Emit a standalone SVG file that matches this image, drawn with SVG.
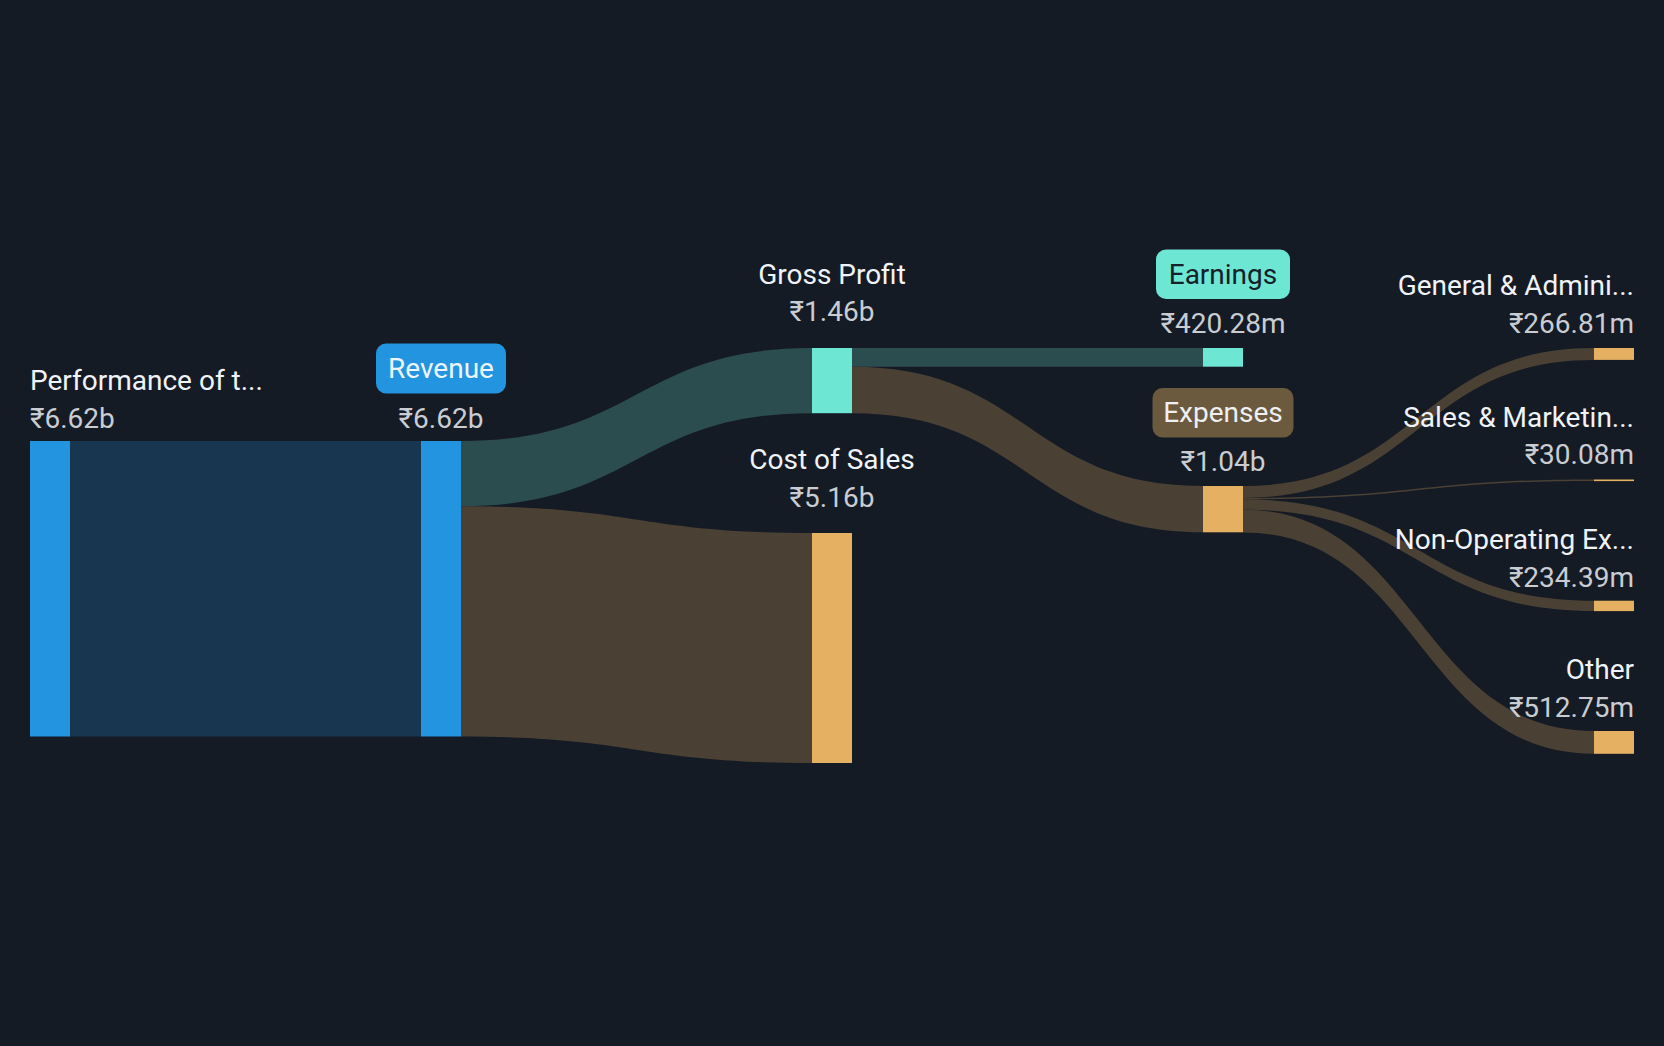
<svg xmlns="http://www.w3.org/2000/svg" width="1664" height="1046" viewBox="0 0 1664 1046">
<style>
text{font-family:Roboto,"DejaVu Sans","Noto Sans",sans-serif;font-size:28px}
.lbl{fill:#f0f3f7}
.val{fill:#c9cdd2}
.mid{text-anchor:middle}
.end{text-anchor:end}
.blue{fill:#2394df}
.teal{fill:#6ee6d4}
.orange{fill:#e5b062}
.lblue{fill:#183650}
.lteal{fill:#2c4d50}
.lbrown{fill:#4a4033}
</style>
<rect width="1664" height="1046" fill="#151b25"/>
<g id="links">
<path class="lblue" d="M70,441 L421,441 L421,736.5 L70,736.5 Z"/>
<path class="lteal" d="M461,441 C636.5,441 636.5,348 812,348 L812,413.2 C636.5,413.2 636.5,506.2 461,506.2 Z"/>
<path class="lbrown" d="M461,506.2 C636.5,506.2 636.5,533 812,533 L812,763 C636.5,763 636.5,736.5 461,736.5 Z"/>
<path class="lteal" d="M852,348 L1203,348 L1203,366.7 L852,366.7 Z"/>
<path class="lbrown" d="M852,366.7 C1027.5,366.7 1027.5,486 1203,486 L1203,532.3 C1027.5,532.3 1027.5,413.2 852,413.2 Z"/>
<path class="lbrown" d="M1243,486 C1418.5,486 1418.5,348 1594,348 L1594,359.9 C1418.5,359.9 1418.5,497.9 1243,497.9 Z"/>
<path class="lbrown" d="M1243,497.9 C1418.5,497.9 1418.5,479.5 1594,479.5 L1594,480.9 C1418.5,480.9 1418.5,499.3 1243,499.3 Z"/>
<path class="lbrown" d="M1243,499.3 C1418.5,499.3 1418.5,600.7 1594,600.7 L1594,611.1 C1418.5,611.1 1418.5,509.7 1243,509.7 Z"/>
<path class="lbrown" d="M1243,509.7 C1418.5,509.7 1418.5,731 1594,731 L1594,753.8 C1418.5,753.8 1418.5,532.5 1243,532.5 Z"/>
</g>
<g id="performance">
<rect class="blue" x="30" y="441" width="40" height="295.5"/>
<text class="lbl" x="30" y="389.5">Performance of t...</text>
<text class="val" x="30" y="428">₹6.62b</text>
</g>
<g id="revenue">
<rect class="blue" x="421" y="441" width="40" height="295.5"/>
<rect class="blue" x="376" y="343.5" width="130" height="50" rx="10"/>
<text class="mid" x="441" y="378" fill="#eef6fd">Revenue</text>
<text class="val mid" x="441" y="428">₹6.62b</text>
</g>
<g id="gross-profit">
<rect class="teal" x="812" y="348" width="40" height="65.2"/>
<text class="lbl mid" x="832" y="284">Gross Profit</text>
<text class="val mid" x="832" y="320.5">₹1.46b</text>
</g>
<g id="cost-of-sales">
<rect class="orange" x="812" y="533" width="40" height="230"/>
<text class="lbl mid" x="832" y="468.5">Cost of Sales</text>
<text class="val mid" x="832" y="506.5">₹5.16b</text>
</g>
<g id="earnings">
<rect class="teal" x="1203" y="348" width="40" height="18.7"/>
<rect class="teal" x="1156" y="249.5" width="134" height="49.5" rx="10"/>
<text class="mid" x="1223" y="284" fill="#16202a">Earnings</text>
<text class="val mid" x="1223" y="332.5">₹420.28m</text>
</g>
<g id="expenses">
<rect class="orange" x="1203" y="486" width="40" height="46.3"/>
<rect x="1152.5" y="388" width="141" height="49.5" rx="10" fill="#6b5a3e"/>
<text class="mid" x="1223" y="421.5" fill="#eef0f3">Expenses</text>
<text class="val mid" x="1223" y="470.5">₹1.04b</text>
</g>
<g id="general-admin">
<rect class="orange" x="1594" y="348" width="40" height="11.9"/>
<text class="lbl end" x="1634" y="295">General &amp; Admini...</text>
<text class="val end" x="1634" y="332.5">₹266.81m</text>
</g>
<g id="sales-marketing">
<rect class="orange" x="1594" y="479.5" width="40" height="1.6"/>
<text class="lbl end" x="1634" y="426.5">Sales &amp; Marketin...</text>
<text class="val end" x="1634" y="464">₹30.08m</text>
</g>
<g id="non-operating">
<rect class="orange" x="1594" y="600.7" width="40" height="10.4"/>
<text class="lbl end" x="1634" y="548.5">Non-Operating Ex...</text>
<text class="val end" x="1634" y="586.5">₹234.39m</text>
</g>
<g id="other">
<rect class="orange" x="1594" y="731" width="40" height="22.8"/>
<text class="lbl end" x="1634" y="678.5">Other</text>
<text class="val end" x="1634" y="716.5">₹512.75m</text>
</g>
</svg>
